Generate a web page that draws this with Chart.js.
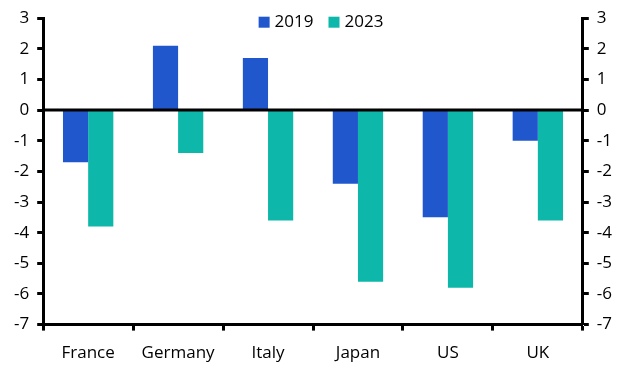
<!DOCTYPE html>
<html>
<head>
<meta charset="utf-8">
<script src="https://cdn.jsdelivr.net/npm/chart.js@4.4.0/dist/chart.umd.min.js"></script>
<style>
  html, body { margin: 0; padding: 0; background: #fff; }
  #chart { display: block; }
</style>
</head>
<body>
<canvas id="chart" width="632" height="376"></canvas>
<script>
const countries = ['France', 'Germany', 'Italy', 'Japan', 'US', 'UK'];
const values2019 = [-1.7, 2.1, 1.7, -2.4, -3.5, -1.0];
const values2023 = [-3.8, -1.4, -3.6, -5.6, -5.8, -3.6];
const seriesLabels = ['2019', '2023'];
const yMin = -7;
const yMax = 3;

const FONT = "'Open Sans', 'Noto Sans', sans-serif";

// legend drawn inside the plot, top centre
const topLegend = {
    id: 'topLegend',
    afterDraw(chart) {
        const { ctx, chartArea: { left, right, top } } = chart;
        ctx.save();
        ctx.font = '17px ' + FONT;
        ctx.textBaseline = 'middle';
        const box = 11, gap = 5, between = 15;
        const items = chart.data.datasets.map(ds => ({ text: ds.label, color: ds.backgroundColor, w: ctx.measureText(ds.label).width }));
        let total = 0;
        items.forEach((it, i) => { total += box + gap + it.w + (i ? between : 0); });
        let x = (left + right) / 2 + 8 - total / 2;
        const y = top + 4;
        items.forEach((it, i) => {
            if (i) x += between;
            ctx.fillStyle = it.color;
            ctx.fillRect(x, y - box / 2, box, box);
            x += box + gap;
            ctx.fillStyle = '#000';
            ctx.fillText(it.text, x, y);
            x += it.w;
        });
        ctx.restore();
    }
};

//linea del cero
const zeroLine = {
    id: 'zeroLine',
    afterDatasetsDraw(chart) {
        const { ctx, chartArea: { left, right }, scales: { y } } = chart;
        const y0 = Math.round(y.getPixelForValue(0));
        ctx.save();
        ctx.fillStyle = '#000';
        ctx.fillRect(left, y0 - 1.5, right - left, 3);
        ctx.restore();
    }
};

const yTicks = {
    color: '#000',
    font: { size: 17, family: FONT },
    stepSize: 1,
    padding: 8
};

const config = {
    type: 'bar',
    data: {
        labels: countries,
        datasets: [{
            label: seriesLabels[0],
            data: values2019,
            backgroundColor: '#2057CC',
            barPercentage: 1,
            categoryPercentage: 0.56
        }, {
            label: seriesLabels[1],
            data: values2023,
            backgroundColor: '#0DB8AA',
            barPercentage: 1,
            categoryPercentage: 0.56
        }]
    },
    options: {
        responsive: false,
        animation: false,
        layout: {
            padding: { top: 4, right: 12, bottom: 1, left: 6 }
        },
        plugins: {
            legend: { display: false },
            tooltip: { enabled: false }
        },
        scales: {
            x: {
                grid: {
                    display: true,
                    offset: true,
                    drawOnChartArea: false,
                    drawTicks: true,
                    tickLength: 6,
                    tickWidth: 3,
                    tickColor: '#000'
                },
                border: { display: true, color: '#000', width: 3 },
                ticks: {
                    color: '#000',
                    font: { size: 17, family: FONT },
                    padding: 12,
                    maxRotation: 0
                }
            },
            y: {
                position: 'left',
                min: yMin,
                max: yMax,
                grid: {
                    drawOnChartArea: false,
                    tickLength: 6,
                    tickWidth: 3,
                    tickColor: '#000'
                },
                border: { display: true, color: '#000', width: 3 },
                ticks: yTicks
            },
            y2: {
                position: 'right',
                min: yMin,
                max: yMax,
                grid: {
                    drawOnChartArea: false,
                    tickLength: 6,
                    tickWidth: 3,
                    tickColor: '#000'
                },
                border: { display: true, color: '#000', width: 3 },
                ticks: yTicks
            }
        }
    },
    plugins: [zeroLine, topLegend]
};

var myChart = new Chart(document.getElementById('chart'), config);
</script>
</body>
</html>
